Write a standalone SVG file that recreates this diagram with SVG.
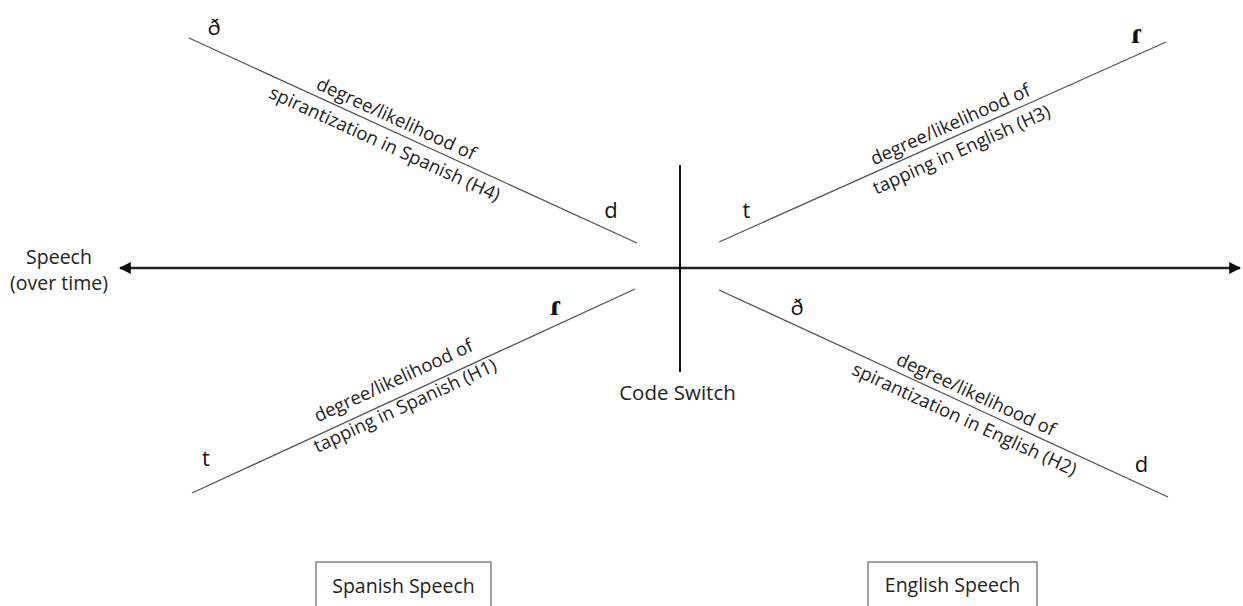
<svg xmlns="http://www.w3.org/2000/svg" width="1243" height="606" viewBox="0 0 1243 606">
<style>
  .t { font-family: "Open Sans", "DejaVu Sans", sans-serif; fill: #222; }
  .lbl { font-size: 18.5px; text-anchor: middle; }
  .big { font-size: 19.5px; text-anchor: middle; }
  .ph { font-family: "Open Sans", "DejaVu Sans", sans-serif; font-size: 22px; fill: #111; text-anchor: middle; }
  .tap { font-family: "Liberation Serif", "DejaVu Serif", serif; font-size: 30px; font-weight: bold; fill: #111; text-anchor: middle; }
  .diag { stroke: #555; stroke-width: 1.3; fill: none; }
  .box { fill: #fff; stroke: #666; stroke-width: 1.2; }
</style>
<defs>
  <marker id="ah" viewBox="0 0 10 10" refX="9" refY="5" markerWidth="5" markerHeight="5" orient="auto-start-reverse" markerUnits="strokeWidth">
    <path d="M0,0 L10,5 L0,10 z" fill="#111"/>
  </marker>
</defs>
<rect width="1243" height="606" fill="#fff"/>
<g id="connectors">
  <line x1="120" y1="268" x2="1240" y2="268" stroke="#222" stroke-width="2.4" marker-start="url(#ah)" marker-end="url(#ah)"/>
  <line x1="680" y1="165" x2="680" y2="372" stroke="#111" stroke-width="2"/>
  <line class="diag" x1="189" y1="38" x2="637" y2="243"/>
  <line class="diag" x1="719" y1="242" x2="1166" y2="42"/>
  <line class="diag" x1="192" y1="493" x2="635" y2="289"/>
  <line class="diag" x1="719" y1="290" x2="1168" y2="497"/>
</g>
<g id="speech-axis-label">
  <text class="t big" x="59" y="264">Speech</text>
  <text class="t big" x="59" y="290">(over time)</text>
</g>
<g id="code-switch">
  <text class="t big" x="677.5" y="400" style="font-size:20.5px">Code Switch</text>
</g>
<g id="h4">
  <text class="ph" x="214" y="35">ð</text>
  <text class="ph" x="611" y="218">d</text>
  <g transform="translate(390.9,130.4) rotate(24.59)">
    <text class="t lbl" x="0" y="-6.5">degree/likelihood of</text>
    <text class="t lbl" x="0" y="21">spirantization in Spanish (H4)</text>
  </g>
</g>
<g id="h3">
  <text class="ph" x="746.5" y="218">t</text>
  <text class="tap" x="1137" y="43">ɾ</text>
  <g transform="translate(955.4,136.2) rotate(-24.1)">
    <text class="t lbl" x="0" y="-6.5">degree/likelihood of</text>
    <text class="t lbl" x="0" y="21">tapping in English (H3)</text>
  </g>
</g>
<g id="h1">
  <text class="ph" x="206" y="466">t</text>
  <text class="tap" x="556" y="315">ɾ</text>
  <g transform="translate(398.8,392.3) rotate(-24.73)">
    <text class="t lbl" x="0" y="-6.5">degree/likelihood of</text>
    <text class="t lbl" x="0" y="21">tapping in Spanish (H1)</text>
  </g>
</g>
<g id="h2">
  <text class="ph" x="797" y="315">ð</text>
  <text class="ph" x="1141.5" y="472">d</text>
  <g transform="translate(970.6,406) rotate(24.75)">
    <text class="t lbl" x="0" y="-6.5">degree/likelihood of</text>
    <text class="t lbl" x="0" y="21">spirantization in English (H2)</text>
  </g>
</g>
<g id="spanish-speech">
  <rect class="box" x="316" y="562" width="175" height="50"/>
  <text class="t big" x="403.5" y="593">Spanish Speech</text>
</g>
<g id="english-speech">
  <rect class="box" x="868" y="562" width="169" height="50"/>
  <text class="t big" x="952.5" y="592">English Speech</text>
</g>
</svg>
